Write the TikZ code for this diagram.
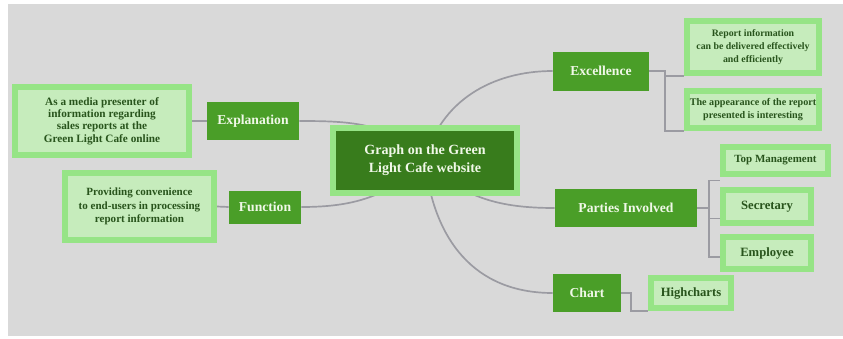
\documentclass[tikz,border=0pt]{standalone}
\usepackage{fontspec}
\setmainfont{Liberation Serif}
\usetikzlibrary{calc}
\definecolor{mygray}{RGB}{217,217,217}
\definecolor{mygreen}{RGB}{74,158,40}
\definecolor{mydark}{RGB}{56,124,28}
\definecolor{mylight}{RGB}{150,228,134}
\definecolor{mypale}{RGB}{198,236,188}
\definecolor{mytext}{RGB}{40,84,28}
\definecolor{myline}{RGB}{155,155,162}
\definecolor{mywhite}{RGB}{240,248,232}
\pgfdeclarelayer{back}
\pgfdeclarelayer{lines}
\pgfsetlayers{back,lines,main}
\tikzset{
  topic/.style={fill=mygreen, text=mywhite, align=center, inner sep=0pt,
    font=\bfseries\fontsize{9.7}{11}\selectfont},
  leaf/.style={fill=mypale, draw=mylight, line width=4.2pt, text=mytext,
    align=center, inner sep=0pt},
  link/.style={draw=myline, line width=1.2pt}
}
\begin{document}
\begin{tikzpicture}[x=0.025cm,y=-0.025cm]
  \useasboundingbox (0,0) rectangle (843,338);
  \begin{pgfonlayer}{back}
    \fill[mygray] (8,4) rectangle (843,336);
  \end{pgfonlayer}

  \node[leaf, fill=mydark, text=mywhite, minimum width=4.6cm, minimum height=1.625cm,
    font=\bfseries\fontsize{10}{12.8}\selectfont] (ctr) at (425,160.5)
    {Graph on the Green\\Light Cafe website};

  \node[topic, minimum width=2.3cm, minimum height=0.95cm] (expl) at (253,121) {Explanation};
  \node[topic, minimum width=1.8cm, minimum height=0.825cm] (func) at (265,207) {Function};
  \node[topic, minimum width=2.4cm, minimum height=0.975cm] (excel) at (601,71) {Excellence};
  \node[topic, minimum width=3.55cm, minimum height=0.95cm] (party) at (626,208) {Parties Involved};
  \node[topic, minimum width=1.7cm, minimum height=0.95cm] (chart) at (587,293) {Chart};

  \node[leaf, minimum width=4.35cm, minimum height=1.7cm, font=\bfseries\fontsize{8}{8.8}\selectfont]
    (explD) at (102,121) {As a media presenter of\\information regarding\\sales reports at the\\Green Light Cafe online};
  \node[leaf, minimum width=3.72cm, minimum height=1.68cm, font=\bfseries\fontsize{7.85}{9.8}\selectfont]
    (funcD) at (139.5,206.5) {Providing convenience\\to end-users in processing\\report information};
  \node[leaf, minimum width=3.3cm, minimum height=1.3cm, font=\bfseries\fontsize{7}{9.2}\selectfont]
    (report) at (753,47) {Report information\\can be delivered effectively\\and efficiently};
  \node[leaf, minimum width=3.3cm, minimum height=0.93cm, font=\bfseries\fontsize{7.2}{9.2}\selectfont]
    (appear) at (753,109.5) {The appearance of the report\\presented is interesting};
  \node[leaf, minimum width=2.63cm, minimum height=0.68cm, font=\bfseries\fontsize{7.8}{9}\selectfont]
    (topm) at (775.5,160.5) {Top Management};
  \node[leaf, minimum width=2.2cm, minimum height=0.83cm, font=\bfseries\fontsize{9}{10}\selectfont]
    (secr) at (767,206.5) {Secretary};
  \node[leaf, minimum width=2.2cm, minimum height=0.8cm, font=\bfseries\fontsize{9}{10}\selectfont]
    (empl) at (767,253) {Employee};
  \node[leaf, minimum width=2.0cm, minimum height=0.76cm, font=\bfseries\fontsize{9}{10}\selectfont]
    (high) at (691,293) {Highcharts};

  \begin{pgfonlayer}{lines}
    % branches from the centre
    \draw[link] (ctr.center) to[out=132,in=0] (expl.east);
    \draw[link] (ctr.center) to[out=225,in=0] (func.east);
    \draw[link] (ctr.center) to[out=76,in=180] (excel.west);
    \draw[link] (ctr.center) to[out=-45,in=180] (party.west);
    \draw[link] (ctr.center) to[out=-84,in=180,looseness=1.1] (chart.west);
    % sub branches
    \draw[link] (explD.east) -- (expl.west);
    \draw[link] (funcD.east) -- (func.west);
    \draw[link] (excel.east) -- ++(16,0) coordinate (exj) |- (report.south west);
    \draw[link] (exj) |- (appear.south west);
    \draw[link] (party.east) -- ++(12,0) coordinate (pj);
    \foreach \n/\d in {topm/20, secr/12, empl/4}
      \draw[link] (pj) |- ($(\n.west)+(0,\d)$);
    \draw[link] (chart.east) -- ++(10,0) coordinate (cj) |- (high.south west);
  \end{pgfonlayer}
\end{tikzpicture}
\end{document}
